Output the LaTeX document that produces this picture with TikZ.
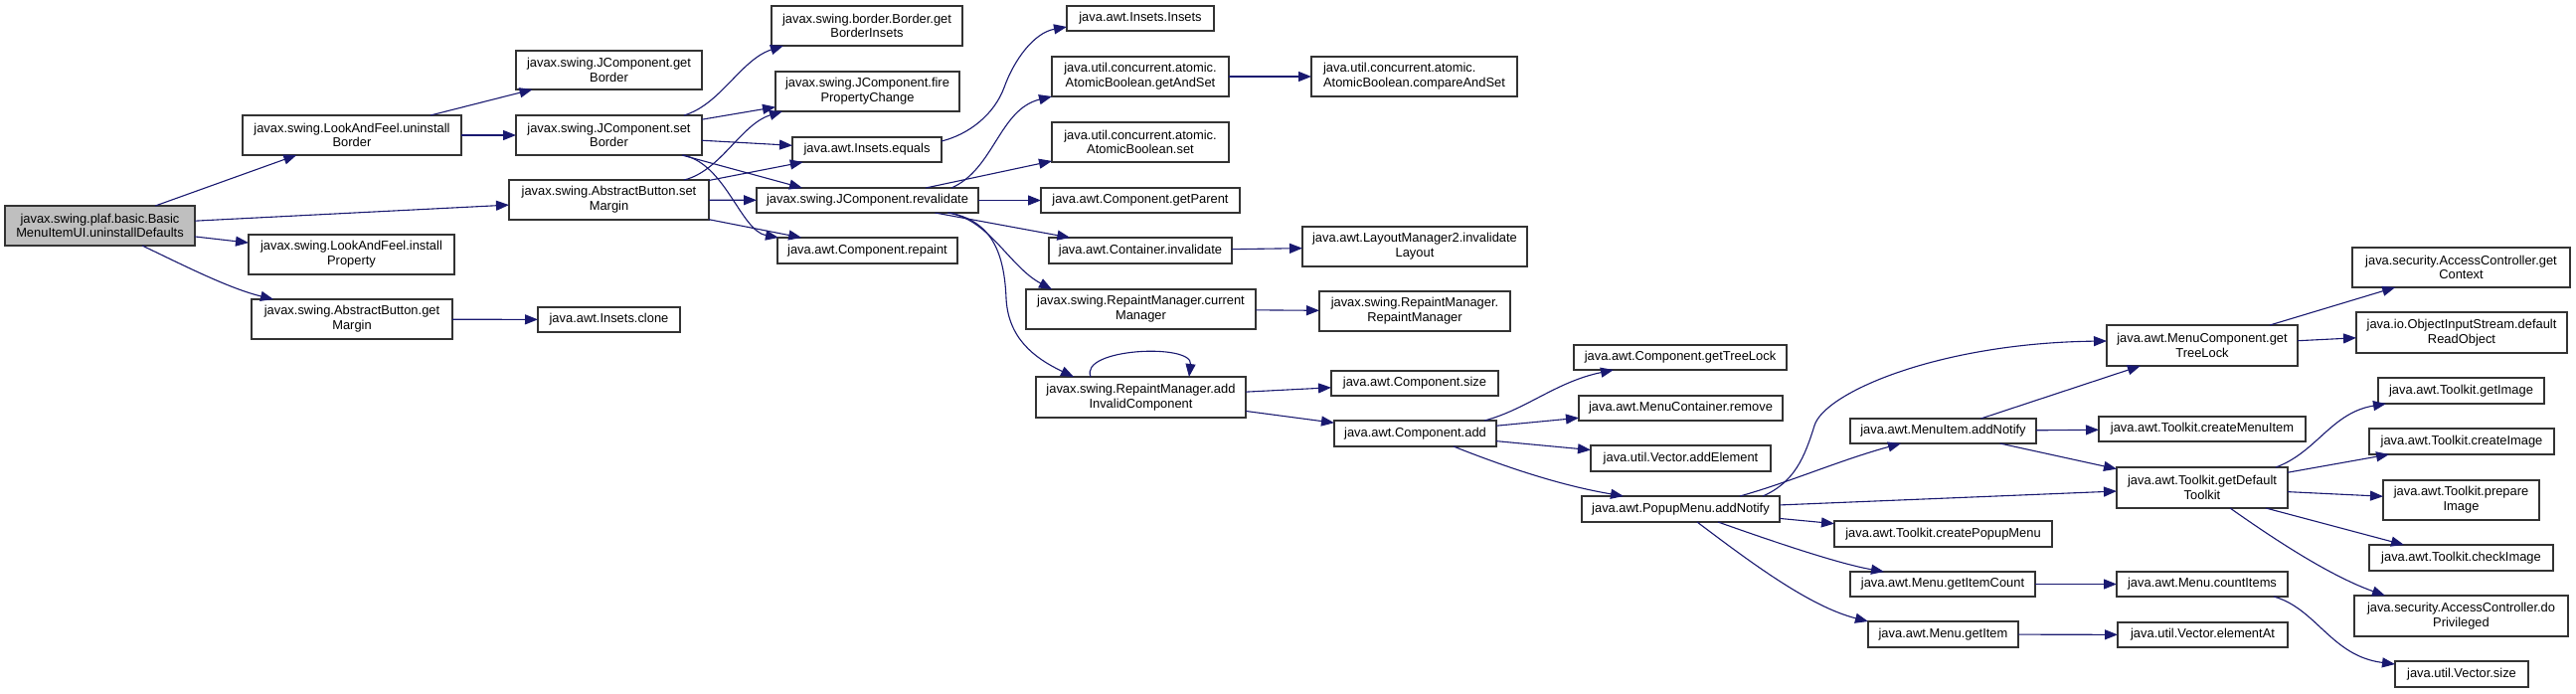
\documentclass[tikz,border=0pt]{standalone}
\usepackage{fontspec}
\setmainfont{Liberation Sans}
\usetikzlibrary{arrows.meta}
\definecolor{edgecol}{HTML}{191970}
\definecolor{boxline}{HTML}{333333}
\definecolor{rootfill}{HTML}{BFBFBF}
\tikzset{
  box/.style={draw=boxline, line width=0.6pt, fill=white, inner sep=1pt, outer sep=0pt,
              align=center, font=\fontsize{6.45}{7.35}\selectfont},
  rootbox/.style={fill=rootfill},
  edge/.style={draw=edgecol, line width=0.55pt, -{Triangle[length=6.5pt,width=5pt]}, fill=none},
}
\newcommand\gbox[7][]{%
  \pgfmathsetmacro\gcx{(#3+#5)/2}%
  \pgfmathsetmacro\gcy{(#4+#6)/2}%
  \pgfmathsetmacro\gw{(#5-#3)*0.5}%
  \pgfmathsetmacro\gh{(#6-#4)*0.5}%
  \node[box,minimum width=\gw pt,minimum height=\gh pt,#1] (#2) at (\gcx,\gcy) {#7};}
\begin{document}
\begin{tikzpicture}[x=0.5pt,y=-0.5pt]
\fill[white] (0,0) rectangle (2591,697);
\useasboundingbox (0,0) rectangle (2591,697);
% nodes
\gbox[rootbox]{root}{5}{207}{196}{247}{javax.swing.plaf.basic.Basic\\MenuItemUI.uninstallDefaults}
\gbox{uB}{244}{116}{464}{156}{javax.swing.LookAndFeel.uninstall\\Border}
\gbox{iP}{250}{236}{457}{276}{javax.swing.LookAndFeel.install\\Property}
\gbox{gM}{253}{301}{455}{341}{javax.swing.AbstractButton.get\\Margin}
\gbox{gB}{519}{51}{706}{90}{javax.swing.JComponent.get\\Border}
\gbox{sB}{519}{116}{706}{156}{javax.swing.JComponent.set\\Border}
\gbox{sM}{512}{181}{713}{221}{javax.swing.AbstractButton.set\\Margin}
\gbox{ic}{541}{309}{684}{334}{java.awt.Insets.clone}
\gbox{gBI}{776}{6}{968}{46}{javax.swing.border.Border.get\\BorderInsets}
\gbox{fPC}{780}{72}{965}{112}{javax.swing.JComponent.fire\\PropertyChange}
\gbox{ieq}{797}{138}{947}{163}{java.awt.Insets.equals}
\gbox{rev}{761}{189}{984}{214}{javax.swing.JComponent.revalidate}
\gbox{rep}{782}{239}{963}{265}{java.awt.Component.repaint}
\gbox{ins}{1073}{6}{1221}{31}{java.awt.Insets.Insets}
\gbox{gAS}{1058}{57}{1236}{97}{java.util.concurrent.atomic.\\AtomicBoolean.getAndSet}
\gbox[align=left]{cAS}{1319}{57}{1526}{97}{java.util.concurrent.atomic.\\AtomicBoolean.compareAndSet}
\gbox{aBs}{1058}{123}{1236}{163}{java.util.concurrent.atomic.\\AtomicBoolean.set}
\gbox{gP}{1047}{189}{1247}{214}{java.awt.Component.getParent}
\gbox{ci}{1055}{239}{1239}{265}{java.awt.Container.invalidate}
\gbox{iL}{1310}{228}{1536}{268}{java.awt.LayoutManager2.invalidate\\Layout}
\gbox{cM}{1032}{291}{1263}{331}{javax.swing.RepaintManager.current\\Manager}
\gbox{RM}{1327}{293}{1519}{333}{javax.swing.RepaintManager.\\RepaintManager}
\gbox{aIC}{1042}{379}{1253}{420}{javax.swing.RepaintManager.add\\InvalidComponent}
\gbox{cs}{1339}{373}{1507}{398}{java.awt.Component.size}
\gbox{ca}{1342}{423}{1505}{449}{java.awt.Component.add}
\gbox{gTL}{1583}{347}{1797}{372}{java.awt.Component.getTreeLock}
\gbox{mcr}{1588}{398}{1793}{423}{java.awt.MenuContainer.remove}
\gbox{vae}{1600}{448}{1781}{474}{java.util.Vector.addElement}
\gbox{pan}{1591}{499}{1790}{525}{java.awt.PopupMenu.addNotify}
\gbox{man}{1861}{421}{2048}{446}{java.awt.MenuItem.addNotify}
\gbox{cpm}{1845}{524}{2064}{550}{java.awt.Toolkit.createPopupMenu}
\gbox{gIC}{1861}{575}{2047}{600}{java.awt.Menu.getItemCount}
\gbox{gI}{1879}{625}{2030}{651}{java.awt.Menu.getItem}
\gbox{mgTL}{2119}{327}{2311}{368}{java.awt.MenuComponent.get\\TreeLock}
\gbox{cMI}{2111}{419}{2319}{444}{java.awt.Toolkit.createMenuItem}
\gbox{gDT}{2129}{470}{2301}{511}{java.awt.Toolkit.getDefault\\Toolkit}
\gbox{cI}{2129}{575}{2301}{600}{java.awt.Menu.countItems}
\gbox{vea}{2130}{626}{2301}{651}{java.util.Vector.elementAt}
\gbox{gC}{2366}{249}{2585}{289}{java.security.AccessController.get\\Context}
\gbox{dRO}{2370}{314}{2582}{355}{java.io.ObjectInputStream.default\\ReadObject}
\gbox{tgI}{2392}{380}{2559}{406}{java.awt.Toolkit.getImage}
\gbox{tcI}{2383}{431}{2569}{457}{java.awt.Toolkit.createImage}
\gbox{tpI}{2397}{483}{2554}{523}{java.awt.Toolkit.prepare\\Image}
\gbox{tchI}{2383}{548}{2568}{574}{java.awt.Toolkit.checkImage}
\gbox{dP}{2368}{599}{2583}{640}{java.security.AccessController.do\\Privileged}
\gbox{vs}{2409}{665}{2543}{691}{java.util.Vector.size}
% edges
\draw[edge] (root) -- (uB);
\draw[edge] (root) -- (sM);
\draw[edge] (root) -- (iP);
\draw[edge] (143,0 |- root.south) .. controls (185,267) and (230,290) .. (275,0 |- gM.north);
\draw[edge] (uB) -- (gB);
\draw[edge] (uB) -- (sB);
\draw[edge] (gM) -- (ic);
\draw[edge] (688,0 |- sB.north) .. controls (725,105) and (745,60) .. (788,0 |- gBI.south);
\draw[edge] (sB) -- (fPC);
\draw[edge] (sB) -- (ieq);
\draw[edge] (sB) -- (807,0 |- rev.north);
\draw[edge] (687,0 |- sB.south) .. controls (730,165) and (745,232) .. (783,0 |- rep.north);
\draw[edge] (688,0 |- sM.north) .. controls (725,172) and (745,125) .. (787,0 |- fPC.south);
\draw[edge] (sM) -- (ieq);
\draw[edge] (sM) -- (rev);
\draw[edge] (sM) -- (rep);
\draw[edge] (ieq.east |- 0,142) .. controls (975,135) and (1000,115) .. (1010,88)
            .. controls (1020,60) and (1040,33) .. (ins.west |- 0,27);
\draw[edge] (957,0 |- rev.north) .. controls (1000,170) and (1005,110) .. (gAS.south west);
\draw[edge] (rev) -- (aBs);
\draw[edge] (rev) -- (gP);
\draw[edge] (rev) -- (ci);
\draw[edge] (953,0 |- rev.south) .. controls (995,220) and (1015,268) .. (1058,0 |- cM.north);
\draw[edge] (955,0 |- rev.south) .. controls (995,222) and (1010,250) .. (1012,300)
            .. controls (1014,340) and (1040,360) .. (1080,0 |- aIC.north);
\draw[edge] (gAS) -- (cAS);
\draw[edge] (ci) -- (iL);
\draw[edge] (cM) -- (RM);
\draw[edge] (1097,0 |- aIC.north) .. controls (1085,350) and (1200,345) .. (1196,0 |- aIC.north);
\draw[edge] (aIC) -- (cs);
\draw[edge] (aIC) -- (ca);
\draw[edge] (1493,0 |- ca.north) .. controls (1535,412) and (1565,384) .. (1623,0 |- gTL.south);
\draw[edge] (ca) -- (mcr);
\draw[edge] (ca) -- (vae);
\draw[edge] (1462,0 |- ca.south) .. controls (1530,476) and (1580,490) .. (1633,0 |- pan.north);
\draw[edge] (1773,0 |- pan.north) .. controls (1805,485) and (1815,460) .. (1825,428)
            .. controls (1835,395) and (1950,345) .. (mgTL.west |- 0,343);
\draw[edge] (1750,0 |- pan.north) .. controls (1800,485) and (1850,463) .. (1912,0 |- man.south);
\draw[edge] (pan) -- (gDT);
\draw[edge] (pan) -- (cpm);
\draw[edge] (1728,0 |- pan.south) .. controls (1790,547) and (1850,567) .. (1895,0 |- gIC.north);
\draw[edge] (1707,0 |- pan.south) .. controls (1760,565) and (1820,610) .. (gI.north west);
\draw[edge] (man) -- (mgTL);
\draw[edge] (man) -- (cMI);
\draw[edge] (man) -- (gDT);
\draw[edge] (gIC) -- (cI);
\draw[edge] (gI) -- (vea);
\draw[edge] (2287,0 |- cI.south) .. controls (2330,612) and (2345,660) .. (vs.west |- 0,668);
\draw[edge] (mgTL) -- (gC);
\draw[edge] (mgTL) -- (dRO);
\draw[edge] (2289,0 |- gDT.north) .. controls (2330,455) and (2345,415) .. (2400,0 |- tgI.south);
\draw[edge] (gDT) -- (tcI);
\draw[edge] (gDT) -- (tpI);
\draw[edge] (2279,0 |- gDT.south) -- (2418,0 |- tchI.north);
\draw[edge] (2243,0 |- gDT.south) .. controls (2280,537) and (2340,578) .. (2399,0 |- dP.north);
\end{tikzpicture}
\end{document}
